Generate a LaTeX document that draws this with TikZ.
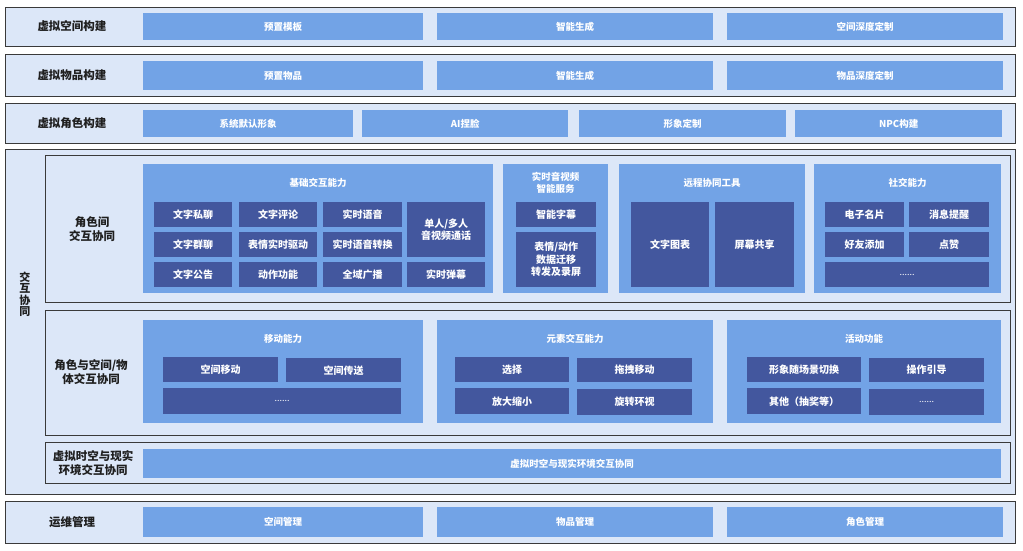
\documentclass[tikz,border=0pt]{standalone}
\usepackage{fontspec}
\setmainfont{Noto Sans CJK SC}
\definecolor{lightbg}{HTML}{DCE7F8}
\definecolor{midblue}{HTML}{72A3E6}
\definecolor{darkblue}{HTML}{43579E}
\definecolor{bordc}{HTML}{3A3A3A}
\newcommand\bx[7]{\node[#2, anchor=north west, inner sep=0pt, minimum width={(#5-#3)*1pt}, minimum height={(#6-#4)*1pt}] (#1) at (#3,#4) {#7};}
\begin{document}
\begin{tikzpicture}[x=1pt,y=-1pt,
  outer/.style={draw=bordc, line width=1.3pt, fill=lightbg},
  mid/.style={fill=midblue, text=white, font=\bfseries\fontsize{9.5}{12}\selectfont, align=center},
  dk/.style={fill=darkblue, text=white, font=\bfseries\fontsize{10}{12.5}\selectfont, align=center},
  lbl/.style={font=\bfseries\fontsize{11.5}{13.5}\selectfont, text=black!88, align=center},
  ttl/.style={text=white, font=\bfseries\fontsize{9.5}{11.5}\selectfont, align=center},
  dots/.style={font=\fontsize{9}{10}\selectfont}]
\useasboundingbox[fill=white] (0,0) rectangle (1023,551);
% Row 1
\bx{r1}{outer}{5}{7}{1015}{46}{}
\node[lbl] (r1l) at (72,26.5) {虚拟空间构建};
\bx{r1a}{mid}{143}{13}{423}{40}{预置模板}
\bx{r1b}{mid}{437}{13}{713}{40}{智能生成}
\bx{r1c}{mid}{727}{13}{1003}{40}{空间深度定制}
% Row 2
\bx{r2}{outer}{5}{54}{1015}{96}{}
\node[lbl] (r2l) at (72,75) {虚拟物品构建};
\bx{r2a}{mid}{143}{61}{423}{90}{预置物品}
\bx{r2b}{mid}{437}{61}{713}{90}{智能生成}
\bx{r2c}{mid}{727}{61}{1003}{90}{物品深度定制}
% Row 3
\bx{r3}{outer}{5}{103}{1015}{143}{}
\node[lbl] (r3l) at (72,123) {虚拟角色构建};
\bx{r3a}{mid}{143}{110}{353}{137}{系统默认形象}
\bx{r3b}{mid}{362}{110}{568}{137}{AI捏脸}
\bx{r3c}{mid}{579}{110}{786}{137}{形象定制}
\bx{r3d}{mid}{795}{110}{1002}{137}{NPC构建}
% Big interaction block
\bx{big}{outer}{5}{149}{1015}{494}{}
\node[font=\bfseries\fontsize{11}{11.5}\selectfont, text=black!88, align=center] (bigl) at (25,294) {交\\互\\协\\同};
% Inner 1
\bx{in1}{outer}{45}{155}{1010}{302}{}
\node[lbl] (in1l) at (92,229) {角色间\\交互协同};
\bx{ma}{mid}{143}{164}{493}{293}{}
\node[ttl] (mat) at (318,183) {基础交互能力};
\bx{a11}{dk}{154}{202}{232}{227}{文字私聊}
\bx{a12}{dk}{239}{202}{317}{227}{文字评论}
\bx{a13}{dk}{323}{202}{402}{227}{实时语音}
\bx{a14}{dk}{407}{202}{485}{257}{单人/多人\\音视频通话}
\bx{a21}{dk}{154}{232}{232}{257}{文字群聊}
\bx{a22}{dk}{239}{232}{317}{257}{表情实时驱动}
\bx{a23}{dk}{323}{232}{402}{257}{实时语音转换}
\bx{a31}{dk}{154}{262}{232}{287}{文字公告}
\bx{a32}{dk}{239}{262}{317}{287}{动作功能}
\bx{a33}{dk}{323}{262}{402}{287}{全域广播}
\bx{a34}{dk}{407}{262}{485}{287}{实时弹幕}
\bx{mb}{mid}{503}{164}{608}{293}{}
\node[ttl] (mbt) at (555.5,183) {实时音视频\\智能服务};
\bx{b1}{dk}{516}{202}{596}{227}{智能字幕}
\bx{b2}{dk}{516}{232}{596}{287}{表情/动作\\数据迁移\\转发及录屏}
\bx{mc}{mid}{619}{164}{805}{293}{}
\node[ttl] (mct) at (712,183) {远程协同工具};
\bx{c1}{dk}{631}{202}{709}{287}{文字图表}
\bx{c2}{dk}{715}{202}{794}{287}{屏幕共享}
\bx{md}{mid}{814}{164}{1001}{293}{}
\node[ttl] (mdt) at (907.5,183) {社交能力};
\bx{d11}{dk}{825}{202}{904}{227}{电子名片}
\bx{d12}{dk}{909}{202}{989}{227}{消息提醒}
\bx{d21}{dk}{825}{232}{904}{257}{好友添加}
\bx{d22}{dk}{909}{232}{989}{257}{点赞}
\bx{d3}{dk,dots}{825}{262}{989}{287}{......}
% Inner 2
\bx{in2}{outer}{45}{310}{1010}{435}{}
\node[lbl] (in2l) at (91,372) {角色与空间/物\\体交互协同};
\bx{me}{mid}{143}{320}{423}{423}{}
\node[ttl] (met) at (283,339) {移动能力};
\bx{e1}{dk}{163}{357}{278}{382}{空间移动}
\bx{e2}{dk}{286}{358}{401}{382}{空间传送}
\bx{e3}{dk,dots}{163}{388}{401}{414}{......}
\bx{mf}{mid}{437}{320}{713}{423}{}
\node[ttl] (mft) at (575,339) {元素交互能力};
\bx{f1}{dk}{455}{357}{569}{382}{选择}
\bx{f2}{dk}{577}{358}{692}{382}{拖拽移动}
\bx{f3}{dk}{455}{388}{569}{414}{放大缩小}
\bx{f4}{dk}{577}{389}{692}{415}{旋转环视}
\bx{mg}{mid}{727}{320}{1001}{423}{}
\node[ttl] (mgt) at (864,339) {活动功能};
\bx{g1}{dk}{747}{357}{861}{382}{形象随场景切换}
\bx{g2}{dk}{869}{358}{984}{382}{操作引导}
\bx{g3}{dk}{747}{388}{861}{414}{其他（抽奖等）}
\bx{g4}{dk,dots}{869}{389}{984}{415}{......}
% Inner 3
\bx{in3}{outer}{45}{442}{1010}{483}{}
\node[lbl] (in3l) at (93,463) {虚拟时空与现实\\环境交互协同};
\bx{h1}{mid}{143}{449}{1001}{478}{虚拟时空与现实环境交互协同}
% Bottom row
\bx{r4}{outer}{5}{501}{1015}{543}{}
\node[lbl] (r4l) at (72,522) {运维管理};
\bx{r4a}{mid}{143}{507}{423}{537}{空间管理}
\bx{r4b}{mid}{437}{507}{713}{537}{物品管理}
\bx{r4c}{mid}{727}{507}{1003}{537}{角色管理}
\end{tikzpicture}
\end{document}
